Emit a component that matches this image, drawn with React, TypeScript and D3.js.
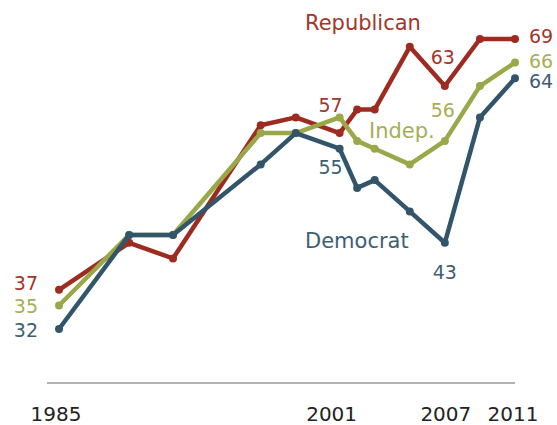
import React from "react";
import * as d3 from "d3";

const years = [1985, 1989, 1991.5, 1996.5, 1998.5, 2001, 2002, 2003, 2005, 2007, 2009, 2011];
const republican = [37, 43, 41, 58, 59, 57, 60, 60, 68, 63, 69, 69];
const independent = [35, 44, 44, 57, 57, 59, 56, 55, 53, 56, 63, 66];
const democrat = [32, 44, 44, 53, 57, 55, 50, 51, 47, 43, 59, 64];
const tickYears = [1985, 2001, 2007, 2011];

const W = 557;
const H = 425;
const FONT = "'DejaVu Sans', Verdana, sans-serif";

const RED = "#9E2B1F";
const GREEN = "#9AA84A";
const BLUE = "#33556A";

export default function App() {
  const x = d3.scaleLinear().domain([1985, 2011]).range([59, 515]);
  const y = d3.scaleLinear().domain([32, 69]).range([329, 39]);

  const series = [
    { name: "Republican", values: republican, color: RED, text: "#A3352B" },
    { name: "Indep.", values: independent, color: GREEN, text: "#A6AE58" },
    { name: "Democrat", values: democrat, color: BLUE, text: "#3E5E73" },
  ];

  const line = d3
    .line<number>()
    .x((_, i) => x(years[i]))
    .y((v) => y(v));

  // value labels: series index, point index, offsets
  const valueLabels = [
    { s: 0, i: 0, dx: -21, dy: 0, anchor: "end" },
    { s: 1, i: 0, dx: -21, dy: 8, anchor: "end" },
    { s: 2, i: 0, dx: -21, dy: 8, anchor: "end" },
    { s: 0, i: 5, dx: 3, dy: -21, anchor: "end" },
    { s: 2, i: 5, dx: 3, dy: 25, anchor: "end" },
    { s: 0, i: 9, dx: 10, dy: -22, anchor: "end" },
    { s: 1, i: 9, dx: 10, dy: -24, anchor: "end" },
    { s: 2, i: 9, dx: 0, dy: 36, anchor: "middle" },
    { s: 0, i: 11, dx: 14, dy: 4, anchor: "start" },
    { s: 1, i: 11, dx: 14, dy: 5, anchor: "start" },
    { s: 2, i: 11, dx: 14, dy: 10, anchor: "start" },
  ];

  const nameLabels = [
    { s: 0, x: 305, y: 30 },
    { s: 1, x: 369, y: 138 },
    { s: 2, x: 305, y: 248 },
  ];

  const tickDx: Record<number, number> = { 1985: -3, 2001: -8, 2007: 1, 2011: -2 };

  return (
    <svg
      width={W}
      height={H}
      style={{ position: "absolute", left: 0, top: 0, background: "#fff" }}
      fontFamily={FONT}
    >
      <line x1={47} x2={x(2011)} y1={383} y2={383} stroke="#9a9a9a" strokeWidth={1.5} />
      {tickYears.map((t) => (
        <text
          key={t}
          x={x(t) + tickDx[t]}
          y={421}
          textAnchor="middle"
          fontSize={20}
          fill="#222"
        >
          {t}
        </text>
      ))}
      {series.map((s) => (
        <g key={s.name}>
          <path
            d={line(s.values) || ""}
            fill="none"
            stroke={s.color}
            strokeWidth={4.5}
            strokeLinejoin="round"
            strokeLinecap="round"
          />
          {s.values.map((v, i) => (
            <circle key={i} cx={x(years[i])} cy={y(v)} r={4} fill={s.color} />
          ))}
        </g>
      ))}
      {nameLabels.map((n) => (
        <text key={n.s} x={n.x} y={n.y} fontSize={21} fill={series[n.s].text}>
          {series[n.s].name}
        </text>
      ))}
      {valueLabels.map((l, k) => {
        const v = series[l.s].values[l.i];
        return (
          <text
            key={k}
            x={x(years[l.i]) + l.dx}
            y={y(v) + l.dy}
            textAnchor={l.anchor as any}
            fontSize={19}
            fill={series[l.s].text}
          >
            {v}
          </text>
        );
      })}
    </svg>
  );
}
